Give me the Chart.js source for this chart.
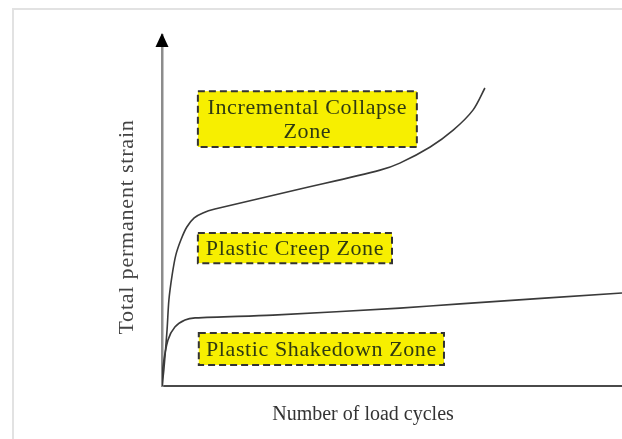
<!DOCTYPE html>
<html>
<head>
<meta charset="utf-8">
<script src="https://cdn.jsdelivr.net/npm/chart.js@4/dist/chart.umd.min.js"></script>
<style>
  html, body { margin: 0; padding: 0; background: #fff; overflow: hidden; }
  #frame { position: absolute; left: 12px; top: 8px; width: 640px; height: 460px;
           border-left: 2px solid #e2e2e2; border-top: 2px solid #e2e2e2; }
  #wrap { position: absolute; left: 0; top: 0; width: 622px; height: 439px; }
</style>
</head>
<body>
<div id="frame"></div>
<div id="wrap"><canvas id="strain-chart"></canvas></div>
<script>
// curves, in axis units (0..100 on both axes, the axes have no ticks)
var collapseX = [0, 0.4, 1.1, 1.5, 2.2, 3.0, 4.1, 5.4, 7.0, 8.9, 11.5, 30.0, 47.4, 51.7, 58.3, 63.3, 67.6, 70.2];
var collapseY = [0, 4.6, 16.0, 24.5, 31.6, 37.3, 41.6, 45.3, 47.9, 49.3, 50.4, 56.1, 61.5, 63.5, 68.1, 72.9, 78.6, 84.9];
var shakedownX = [0, 0.2, 1.3, 2.8, 5.0, 7.2, 24.1, 51.7, 64.8, 100];
var shakedownY = [0, 5.4, 13.1, 16.8, 18.8, 19.4, 20.2, 22.2, 23.4, 26.5];

var zoneLabels = [["Incremental Collapse", "Zone"], ["Plastic Creep Zone"], ["Plastic Shakedown Zone"]];
var xTitle = "Number of load cycles";
var yTitle = "Total permanent strain";

// zone boxes in axis units: [xMin, xMax, yMin, yMax]
var zoneBoxes = [[7.8, 55.4, 68.1, 84.0], [7.8, 50.0, 35.0, 43.6], [8.0, 61.3, 6.0, 15.1]];

function toPoints(xs, ys) {
  return xs.map(function (x, i) { return {x: x, y: ys[i]}; });
}

var serif = "'Liberation Serif', 'DejaVu Serif', serif";

var decor = {
  id: 'decor',
  afterDraw: function (chart) {
    var ctx = chart.ctx, xs = chart.scales.x, ys = chart.scales.y, area = chart.chartArea;
    ctx.save();
    // arrow on y axis
    ctx.fillStyle = '#000';
    ctx.beginPath();
    ctx.moveTo(area.left, area.top - 2);
    ctx.lineTo(area.left - 6.5, area.top + 12);
    ctx.lineTo(area.left + 6.5, area.top + 12);
    ctx.closePath();
    ctx.fill();

    // zone boxes
    zoneBoxes.forEach(function (b, i) {
      var x0 = xs.getPixelForValue(b[0]), x1 = xs.getPixelForValue(b[1]);
      var y0 = ys.getPixelForValue(b[3]), y1 = ys.getPixelForValue(b[2]);
      ctx.fillStyle = '#f7ef00';
      ctx.fillRect(x0, y0, x1 - x0, y1 - y0);
      ctx.setLineDash([7, 4]);
      ctx.lineWidth = 2;
      ctx.strokeStyle = '#333';
      ctx.strokeRect(x0, y0, x1 - x0, y1 - y0);
      ctx.setLineDash([]);
      ctx.fillStyle = '#2f3a12';
      ctx.font = '22px ' + serif;
      ctx.letterSpacing = '0.6px';
      ctx.textAlign = 'center';
      ctx.textBaseline = 'middle';
      var lines = zoneLabels[i], lh = 24;
      var cy = (y0 + y1) / 2 - (lines.length - 1) * lh / 2 + 1;
      lines.forEach(function (t, k) {
        ctx.fillText(t, (x0 + x1) / 2, cy + k * lh);
      });
    });

    // axis titles
    ctx.letterSpacing = '0px';
    ctx.fillStyle = '#333';
    ctx.font = '20px ' + serif;
    ctx.fillText(xTitle, 363, area.bottom + 29);
    ctx.save();
    ctx.translate(127, 227);
    ctx.rotate(-Math.PI / 2);
    ctx.font = '22px ' + serif;
    ctx.letterSpacing = '0.8px';
    ctx.fillStyle = '#444';
    ctx.fillText(yTitle, 0, 0);
    ctx.restore();
    ctx.restore();
  }
};

var strainChart = new Chart(document.getElementById('strain-chart'), {
  type: 'line',
  data: {
    datasets: [
      {data: toPoints(collapseX, collapseY), borderColor: '#3a3a3a', borderWidth: 1.6,
       pointRadius: 0, tension: 0.3, fill: false},
      {data: toPoints(shakedownX, shakedownY), borderColor: '#3a3a3a', borderWidth: 1.6,
       pointRadius: 0, tension: 0.3, fill: false}
    ]
  },
  options: {
    responsive: true, maintainAspectRatio: false, animation: false,
    layout: {padding: {left: 162, top: 35, right: 0, bottom: 53}},
    plugins: {legend: {display: false}, tooltip: {enabled: false}},
    scales: {
      x: {type: 'linear', min: 0, max: 100,
          grid: {display: false, drawTicks: false}, ticks: {display: false},
          border: {display: true, color: '#4a4a4a', width: 2}},
      y: {type: 'linear', min: 0, max: 100,
          grid: {display: false, drawTicks: false}, ticks: {display: false},
          border: {display: true, color: '#8c8c8c', width: 2.5}}
    }
  },
  plugins: [decor]
});
</script>
</body>
</html>
